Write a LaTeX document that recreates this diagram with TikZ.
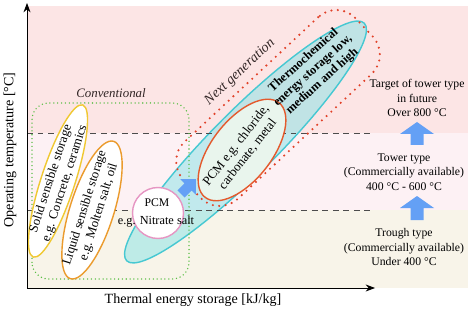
\documentclass[tikz,border=0pt]{standalone}
\usepackage{fontspec}
\setmainfont{Liberation Serif}
\usetikzlibrary{arrows.meta}

\definecolor{hotpink}{RGB}{252,229,229}
\definecolor{midpink}{RGB}{253,241,244}
\definecolor{lowbeige}{RGB}{248,244,233}
\definecolor{tcmline}{RGB}{70,200,210}
\definecolor{tcmfill}{RGB}{120,225,230}
\definecolor{ngred}{RGB}{225,65,40}
\definecolor{pcmred}{RGB}{228,90,45}
\definecolor{pcmfill}{RGB}{233,245,237}
\definecolor{convgreen}{RGB}{90,190,70}
\definecolor{solidyellow}{RGB}{240,200,50}
\definecolor{liquidorange}{RGB}{235,155,45}
\definecolor{nitratepink}{RGB}{230,150,195}
\definecolor{arrowblue}{RGB}{100,160,245}
\definecolor{labelink}{RGB}{50,38,38}

\tikzset{
  axis/.style={line width=0.8pt,-{Stealth[length=8pt,width=6pt]}},
  level/.style={dash pattern=on 5pt off 4pt,line width=0.6pt,black!70},
  ring/.style={line width=1.2pt,fill=white},
  convbox/.style={convgreen,line width=1.3pt,dash pattern=on 0pt off 3.3pt,line cap=round,rounded corners=5mm},
  nextbox/.style={draw=ngred,line width=2pt,dash pattern=on 0pt off 5.5pt,line cap=round,rounded corners=8mm,inner sep=0pt},
  inner/.style={font=\fontsize{11}{12.5}\selectfont,align=center,inner sep=1pt},
  side/.style={font=\fontsize{10}{12.5}\selectfont,align=center},
  pics/blockarrow/.style n args={4}{code={
    \fill[arrowblue] (-#1,0) -- (#1,0) -- (#1,#2) -- (#3,#2) -- (0,#2+#4) -- (-#3,#2) -- (-#1,#2) -- cycle;}}
}

\begin{document}
\begin{tikzpicture}[x=0.3mm,y=0.3mm]
  \useasboundingbox (0,0) rectangle (476,311);

  % temperature bands
  \fill[hotpink] (27,178) rectangle (468,305);
  \fill[midpink] (27,101) rectangle (468,178);
  \fill[lowbeige] (27,23) rectangle (468,101);

  \coordinate (solidc) at (58,130);
  \coordinate (liquidc) at (92,101);
  \coordinate (pcmc) at (158,98);
  \coordinate (tcmc) at (245.5,169);
  \coordinate (chloridec) at (242,161);

  % thermochemical
  \draw[tcmline,line width=1.2pt,fill=tcmfill,fill opacity=0.45,rotate around={45:(tcmc)}]
    (tcmc) ellipse (168 and 32);

  \coordinate (hiL) at (27,178);
  \coordinate (hiR) at (371,178);
  \coordinate (loL) at (27,101);
  \coordinate (loR) at (371,101);
  \draw[level] (hiL) -- (hiR);
  \draw[level] (loL) -- (loR);

  % conventional and next generation groups
  \draw[convbox] (32,32) rectangle (189,208);
  \node[nextbox,rotate=43,minimum width=70.8mm,minimum height=23.4mm] (nextgen) at (278,203) {};

  \draw[ring,draw=pcmred,fill=pcmfill,rotate around={52:(chloridec)}] (chloridec) ellipse (60 and 30);
  \draw[ring,draw=solidyellow,rotate around={72:(solidc)}] (solidc) ellipse (80 and 17);
  \draw[ring,draw=liquidorange,rotate around={72.5:(liquidc)}] (liquidc) ellipse (72 and 22);
  \draw[ring,draw=nitratepink] (pcmc) circle (25.5);

  \pic[rotate=-45] at (181,117) {blockarrow={5}{10}{11}{11}};
  \pic at (417,166) {blockarrow={6.5}{11}{17}{12}};
  \pic at (417,91) {blockarrow={6.5}{12}{17}{12}};

  % axes
  \coordinate (origin) at (27,23);
  \coordinate (ytip) at (27,308);
  \coordinate (xtip) at (375,23);
  \draw[axis] (origin) -- (ytip);
  \draw[axis] (origin) -- (xtip);

  \node[rotate=90,font=\large] (ylabel) at (10,161) {Operating temperature [°C]};
  \node[font=\large] (xlabel) at (193,11) {Thermal energy storage [kJ/kg]};

  \node[font=\fontsize{11}{13}\itshape,text=labelink] (convlabel) at (111,218) {Conventional};
  \node[font=\fontsize{12}{14}\itshape,text=labelink,rotate=43,inner sep=1pt] (nextlabel) at (240,239) {Next generation};

  \node[inner,rotate=72] (solidtext) at (solidc) {Solid sensible storage\\e.g. Concrete, ceramics};
  \node[inner,rotate=72.5] (liquidtext) at (liquidc) {Liquid sensible storage\\e.g. Molten salt, oil};
  \node[side] (pcmtext) at (157,108) {PCM};
  \node[font=\fontsize{10.5}{12}\selectfont] (nitratetext) at (156,89) {e.g. Nitrate salt};
  \node[inner,rotate=52] (chloridetext) at (chloridec) {PCM e.g. chloride,\\carbonate, metal};
  \node[inner,font=\fontsize{10.5}{12}\bfseries,rotate=42] (tcmtext) at (313,240)
    {Thermochemical\\energy storage low,\\medium and high};

  \node[side] (target) at (417,213) {Target of tower type\\in future\\Over 800 °C};
  \node[side] (tower) at (404,139) {Tower type\\(Commercially available)\\400 °C - 600 °C};
  \node[side] (trough) at (404,64) {Trough type\\(Commercially available)\\Under 400 °C};
\end{tikzpicture}
\end{document}
